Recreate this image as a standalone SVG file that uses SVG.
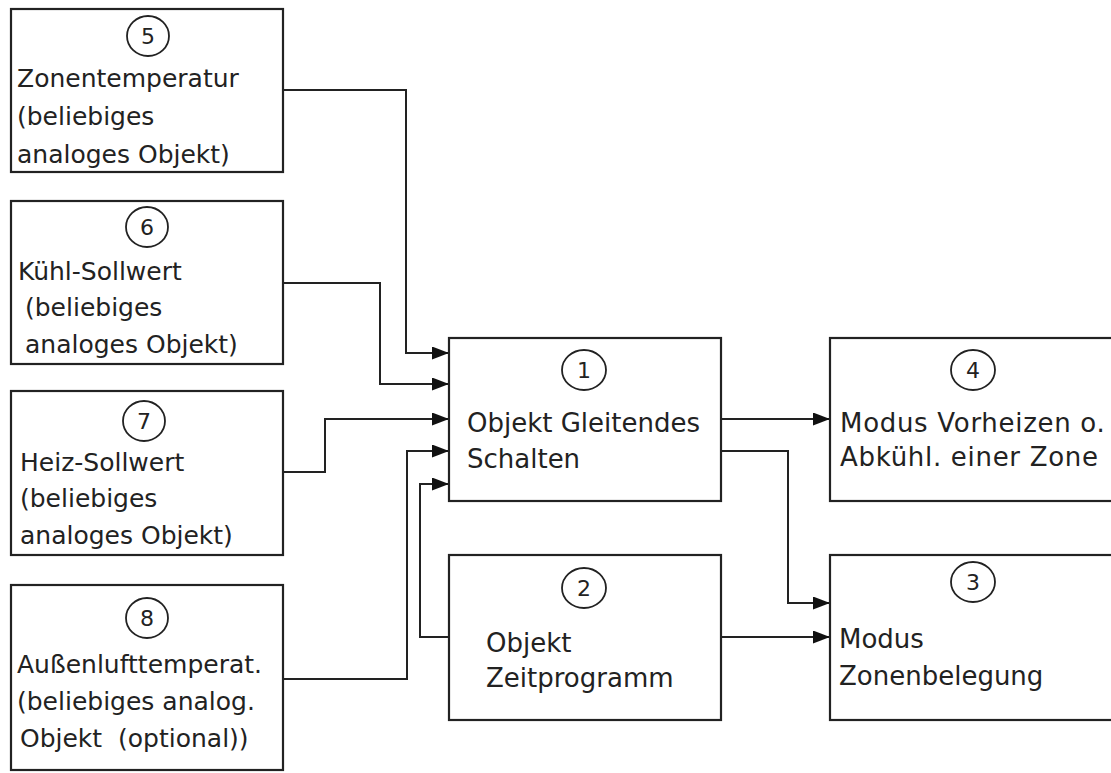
<svg xmlns="http://www.w3.org/2000/svg" width="1111" height="773" viewBox="0 0 1111 773">
<style>
.box{fill:#fff;stroke:#222;stroke-width:2.2}
.num{fill:none;stroke:#222;stroke-width:1.8}
.t{font-family:"DejaVu Sans",sans-serif;font-size:25px;fill:#222}
.tm{font-family:"DejaVu Sans",sans-serif;font-size:26px;fill:#222}
.n{font-family:"DejaVu Sans",sans-serif;font-size:22px;fill:#222;text-anchor:middle}
.c{fill:none;stroke:#222;stroke-width:2}
</style>
<defs>
<marker id="ah" markerUnits="userSpaceOnUse" markerWidth="18" markerHeight="14" refX="17" refY="6.5" orient="auto">
<path d="M0,0 L17,6.5 L0,13 z" fill="#111"/>
</marker>
</defs>
<rect width="1111" height="773" fill="#fff"/>
<g id="connectors">
<path class="c" d="M283,90 H406 V353 H449" marker-end="url(#ah)"/>
<path class="c" d="M283,283 H380 V384 H449" marker-end="url(#ah)"/>
<path class="c" d="M283,472 H325 V419 H449" marker-end="url(#ah)"/>
<path class="c" d="M283,679 H407 V451 H449" marker-end="url(#ah)"/>
<path class="c" d="M449,637 H420 V484 H449" marker-end="url(#ah)"/>
<path class="c" d="M721,419 H830" marker-end="url(#ah)"/>
<path class="c" d="M721,451 H788 V603 H830" marker-end="url(#ah)"/>
<path class="c" d="M721,637 H830" marker-end="url(#ah)"/>
</g>
<g id="node5">
<rect class="box" x="11" y="9" width="272" height="163"/>
<ellipse class="num" cx="148" cy="36" rx="21" ry="20"/>
<text class="n" x="148" y="44">5</text>
<text class="t" x="17" y="87">Zonentemperatur</text>
<text class="t" x="17" y="125">(beliebiges</text>
<text class="t" x="17" y="163">analoges Objekt)</text>
</g>
<g id="node6">
<rect class="box" x="11" y="201" width="272" height="163"/>
<ellipse class="num" cx="147" cy="227" rx="21" ry="20"/>
<text class="n" x="147" y="235">6</text>
<text class="t" x="18" y="280">Kühl-Sollwert</text>
<text class="t" x="25" y="316">(beliebiges</text>
<text class="t" x="25" y="353">analoges Objekt)</text>
</g>
<g id="node7">
<rect class="box" x="11" y="391" width="272" height="164"/>
<ellipse class="num" cx="144" cy="421" rx="21" ry="20"/>
<text class="n" x="144" y="429">7</text>
<text class="t" x="20" y="471">Heiz-Sollwert</text>
<text class="t" x="20" y="507">(beliebiges</text>
<text class="t" x="20" y="544">analoges Objekt)</text>
</g>
<g id="node8">
<rect class="box" x="11" y="585" width="272" height="185"/>
<ellipse class="num" cx="147" cy="618" rx="21" ry="20"/>
<text class="n" x="147" y="626">8</text>
<text class="t" x="17" y="673">Außenlufttemperat.</text>
<text class="t" x="17" y="710">(beliebiges analog.</text>
<text class="t" x="20" y="747" xml:space="preserve">Objekt  (optional))</text>
</g>
<g id="node1">
<rect class="box" x="449" y="338" width="272" height="163"/>
<ellipse class="num" cx="584" cy="370" rx="22" ry="20"/>
<text class="n" x="584" y="378">1</text>
<text class="tm" x="467" y="432">Objekt Gleitendes</text>
<text class="tm" x="467" y="468">Schalten</text>
</g>
<g id="node2">
<rect class="box" x="449" y="555" width="272" height="165"/>
<ellipse class="num" cx="584" cy="588" rx="22" ry="20"/>
<text class="n" x="584" y="596">2</text>
<text class="tm" x="486" y="652">Objekt</text>
<text class="tm" x="486" y="687">Zeitprogramm</text>
</g>
<g id="node4">
<rect class="box" x="830" y="338" width="300" height="163"/>
<ellipse class="num" cx="973" cy="370" rx="22" ry="20"/>
<text class="n" x="973" y="378">4</text>
<text class="tm" x="840" y="432" letter-spacing="0.7">Modus Vorheizen o.</text>
<text class="tm" x="840" y="466" letter-spacing="0.7">Abkühl. einer Zone</text>
</g>
<g id="node3">
<rect class="box" x="830" y="555" width="300" height="165"/>
<ellipse class="num" cx="973" cy="582" rx="22" ry="20"/>
<text class="n" x="973" y="590">3</text>
<text class="tm" x="839" y="648">Modus</text>
<text class="tm" x="839" y="685">Zonenbelegung</text>
</g>
</svg>
